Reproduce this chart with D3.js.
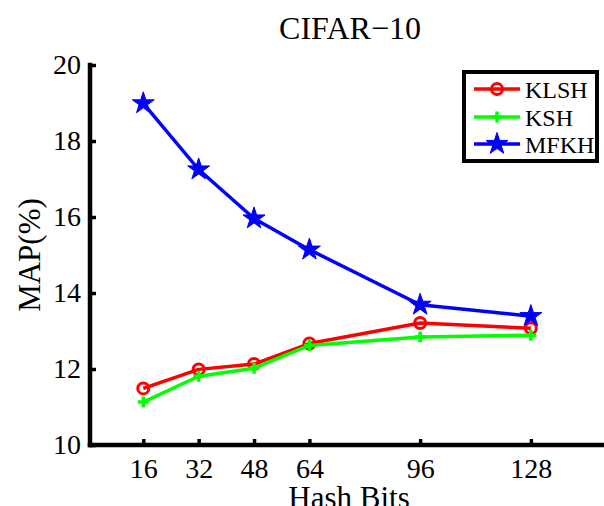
<!DOCTYPE html>
<html>
<head>
<meta charset="utf-8">
<script src="https://cdn.jsdelivr.net/npm/d3@7"></script>
<style>
  body { margin: 0; background: #fff; }
  text { font-family: "Liberation Serif", "Times New Roman", serif; fill: #000; }
</style>
</head>
<body>
<div id="chart"></div>
<script>
// values
const hashBits = [16, 32, 48, 64, 96, 128];
const klsh = [11.49, 11.99, 12.13, 12.67, 13.21, 13.07];
const ksh  = [11.13, 11.81, 12.02, 12.62, 12.84, 12.89];
const mfkh = [18.99, 17.25, 15.96, 15.14, 13.69, 13.39];
const yTicks = [10, 12, 14, 16, 18, 20];
const seriesNames = ["KLSH", "KSH", "MFKH"];
const seriesColors = ["#ff0000", "#00ff00", "#0000ff"];
const seriesValues = [klsh, ksh, mfkh];

const width = 604, height = 506;

const svg = d3.select("#chart")
  .append("svg")
    .attr("width", width)
    .attr("height", height);

// scales
const x = d3.scaleLinear()
  .domain([0.6, 150])
  .range([90, 607]);
const y = d3.scaleLinear()
  .domain([10, 20])
  .range([445, 65]);

// axes lines
svg.append("line")
  .attr("x1", x(0.6)).attr("x2", x(150))
  .attr("y1", y(10)).attr("y2", y(10))
  .attr("stroke", "#000").attr("stroke-width", 4.5)
  .attr("stroke-linecap", "square");
svg.append("line")
  .attr("x1", x(0.6)).attr("x2", x(0.6))
  .attr("y1", y(10)).attr("y2", y(20))
  .attr("stroke", "#000").attr("stroke-width", 4.5)
  .attr("stroke-linecap", "square");

// x ticks (inward)
const xAxis = svg.append("g")
  .attr("transform", `translate(0, ${y(10)})`)
  .call(d3.axisBottom(x).tickValues(hashBits).tickSizeInner(-6).tickSizeOuter(0).tickPadding(13));
xAxis.select(".domain").remove();
xAxis.selectAll(".tick line").attr("stroke-width", 3.5);
xAxis.selectAll("text")
  .style("font-size", "28px")
  .attr("font-family", null);

// y ticks (inward)
const yAxis = svg.append("g")
  .attr("transform", `translate(${x(0.6)}, 0)`)
  .call(d3.axisLeft(y).tickValues(yTicks).tickSizeInner(-6).tickSizeOuter(0).tickPadding(9));
yAxis.select(".domain").remove();
yAxis.selectAll(".tick line").attr("stroke-width", 3.5);
yAxis.selectAll("text")
  .style("font-size", "28px")
  .attr("font-family", null);

// title and axis labels
svg.append("text")
  .attr("x", 350).attr("y", 39)
  .attr("text-anchor", "middle")
  .style("font-size", "32px")
  .text("CIFAR\u221210");

svg.append("text")
  .attr("x", 349).attr("y", 508)
  .attr("text-anchor", "middle")
  .style("font-size", "31px")
  .text("Hash Bits");

svg.append("text")
  .attr("transform", "translate(40, 255) rotate(-90)")
  .attr("text-anchor", "middle")
  .style("font-size", "31px")
  .text("MAP(%)");

// markers
const star = d3.symbol(d3.symbolStar, 150);
function drawMarker(g, i) {
  if (i === 0) {
    g.append("circle").attr("r", 5.5)
      .attr("fill", "none").attr("stroke", seriesColors[i]).attr("stroke-width", 3);
  } else if (i === 1) {
    g.append("path").attr("d", "M-5.5,0H5.5M0,-5.5V5.5")
      .attr("fill", "none").attr("stroke", seriesColors[i]).attr("stroke-width", 3.5);
  } else {
    g.append("path").attr("d", star())
      .attr("fill", seriesColors[i]).attr("stroke", seriesColors[i]).attr("stroke-width", 1);
  }
}

const line = d3.line()
  .x((d, j) => x(hashBits[j]))
  .y(d => y(d));

seriesValues.forEach((vals, i) => {
  svg.append("path")
    .datum(vals)
    .attr("d", line)
    .attr("fill", "none")
    .attr("stroke", seriesColors[i])
    .attr("stroke-width", 3.5)
    .attr("stroke-linejoin", "round");
  vals.forEach((v, j) => {
    const g = svg.append("g")
      .attr("transform", `translate(${x(hashBits[j])}, ${y(v)})`);
    drawMarker(g, i);
  });
});

// legend
const legend = svg.append("g");
legend.append("rect")
  .attr("x", 464).attr("y", 72)
  .attr("width", 133).attr("height", 89)
  .attr("fill", "#fff")
  .attr("stroke", "#000").attr("stroke-width", 4);
const legendY = [89, 117, 144];
seriesNames.forEach((name, i) => {
  legend.append("line")
    .attr("x1", 474).attr("x2", 520)
    .attr("y1", legendY[i]).attr("y2", legendY[i])
    .attr("stroke", seriesColors[i]).attr("stroke-width", 3.5);
  const g = legend.append("g").attr("transform", `translate(497, ${legendY[i]})`);
  drawMarker(g, i);
  legend.append("text")
    .attr("x", 525).attr("y", legendY[i] + 8.5)
    .style("font-size", "24px")
    .text(name);
});
</script>
</body>
</html>
